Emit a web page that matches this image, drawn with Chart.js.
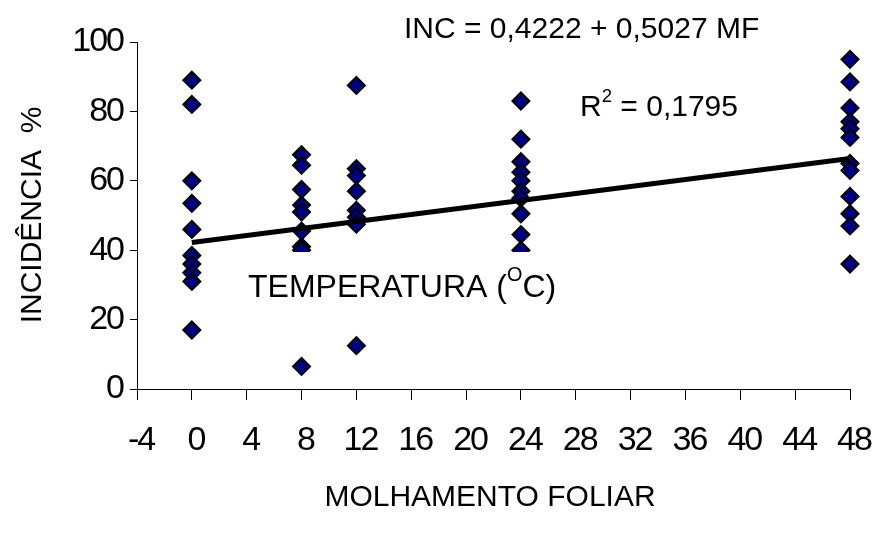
<!DOCTYPE html>
<html>
<head>
<meta charset="utf-8">
<script src="https://cdn.jsdelivr.net/npm/chart.js@4/dist/chart.umd.min.js"></script>
<style>
  html, body { margin: 0; padding: 0; background: #fff; }
  #wrap { width: 875px; height: 541px; }
</style>
</head>
<body>
<div id="wrap"><canvas id="chart"></canvas></div>
<script>
// molhamento foliar (h) e incidencia (%)
const wetness = [0, 8, 12, 24, 48];
const inc0 = [89, 82, 60, 53.5, 46, 38.5, 36, 33.5, 31, 17];
const inc8 = [67.5, 64.5, 57.5, 53, 51, 45.5, 41, 40, 6.5];
const inc12 = [87.5, 63.5, 61.5, 57, 51.5, 49.5, 47.5, 12.5];
const inc24 = [83, 72, 65.5, 62.5, 60, 57, 55, 50.5, 44.5, 40];
const inc48 = [95, 88.5, 81, 77, 75, 72.5, 65, 63, 55.5, 50.5, 47, 36];
const trendX = [0, 48];
const trendY = [42.2, 66.4];
const xTicks = [-4, 0, 4, 8, 12, 16, 20, 24, 28, 32, 36, 40, 44, 48];
const yTicks = [0, 20, 40, 60, 80, 100];

const groups = [inc0, inc8, inc12, inc24, inc48];
const points = [];
groups.forEach((vals, i) => {
  vals.forEach(v => points.push({ x: wetness[i], y: v }));
});

const FONT = '"Liberation Sans", Arial, sans-serif';

// escreve texto com partes sobrescritas
function drawRich(ctx, parts, x, y, size) {
  let cx = x;
  parts.forEach(p => {
    const s = p.sup ? size * 0.62 : size;
    ctx.font = s + 'px ' + FONT;
    ctx.fillText(p.t, cx, p.sup ? y - size * 0.38 : y);
    cx += ctx.measureText(p.t).width;
  });
}

const notes = {
  id: 'notes',
  beforeDraw(chart) {
    chart.ctx.letterSpacing = '-2px';
  },
  beforeDatasetsDraw(chart) {
    chart.ctx.letterSpacing = '0px';
  },
  afterDatasetsDraw(chart) {
    const ctx = chart.ctx;
    ctx.save();
    ctx.letterSpacing = '0px';
    ctx.fillStyle = '#fff';
    ctx.fillRect(240, 252, 335, 68);
    ctx.fillStyle = '#000';
    ctx.textBaseline = 'middle';
    ctx.textAlign = 'left';
    drawRich(ctx, [{ t: 'TEMPERATURA (' }, { t: 'O', sup: true }, { t: 'C)' }], 248, 288, 32);
    drawRich(ctx, [{ t: 'INC = 0,4222 + 0,5027 MF' }], 404, 30, 30);
    drawRich(ctx, [{ t: 'R' }, { t: '2', sup: true }, { t: ' = 0,1795' }], 580, 108, 30);

    ctx.font = '30px ' + FONT;
    ctx.textAlign = 'center';
    ctx.fillText('MOLHAMENTO FOLIAR', 490, 498);
    ctx.translate(33, 215);
    ctx.rotate(-Math.PI / 2);
    ctx.fillText('INCIDÊNCIA  %', 0, 0);
    ctx.restore();
  }
};

const ctx = document.getElementById('chart').getContext('2d');
new Chart(ctx, {
  type: 'scatter',
  data: {
    datasets: [{
      type: 'line',
      data: trendX.map((x, i) => ({ x: x, y: trendY[i] })),
      borderColor: '#000',
      borderWidth: 5,
      pointRadius: 0,
      fill: false
    }, {
      data: points,
      pointStyle: 'rectRot',
      pointRadius: 8.5,
      pointHoverRadius: 8.5,
      backgroundColor: '#000080',
      borderColor: '#000',
      borderWidth: 2
    }]
  },
  options: {
    responsive: true,
    maintainAspectRatio: false,
    animation: false,
    clip: false,
    layout: { padding: { top: 42, right: 25, bottom: 0, left: 0 } },
    plugins: {
      legend: { display: false },
      tooltip: { enabled: false }
    },
    scales: {
      x: {
        type: 'linear',
        min: -4,
        max: 48,
        afterBuildTicks: s => { s.ticks = xTicks.map(v => ({ value: v })); },
        afterFit: s => { s.height = 152; s.paddingLeft = 0; s.paddingRight = 0; },
        grid: { drawOnChartArea: false, drawTicks: true, tickLength: 11, color: '#000' },
        border: { display: true, color: '#000', width: 1 },
        ticks: { color: '#000', font: { family: FONT, size: 34 }, padding: 20, labelOffset: 4, maxRotation: 0, autoSkip: false }
      },
      y: {
        min: 0,
        max: 100,
        afterBuildTicks: s => { s.ticks = yTicks.map(v => ({ value: v })); },
        afterFit: s => { s.width = 137; },
        grid: { drawOnChartArea: false, drawTicks: true, tickLength: 7, color: '#000' },
        border: { display: true, color: '#000', width: 1 },
        ticks: { color: '#000', font: { family: FONT, size: 34 }, padding: 7 }
      }
    }
  },
  plugins: [notes]
});
</script>
</body>
</html>
